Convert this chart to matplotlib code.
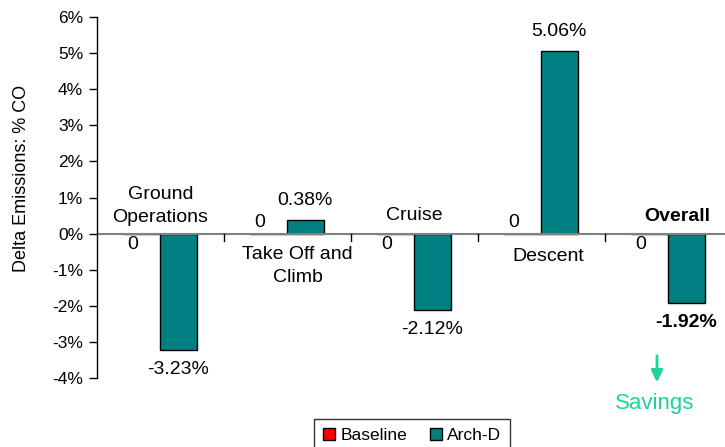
import matplotlib
matplotlib.use("Agg")
import matplotlib.pyplot as plt
from matplotlib.patches import Rectangle
import numpy as np

plt.rcParams['font.family'] = ['Liberation Sans', 'DejaVu Sans']

categories = ["Ground\nOperations", "Take Off and\nClimb", "Cruise", "Descent", "Overall"]
baseline = [0, 0, 0, 0, 0]
arch_d = [-3.23, 0.38, -2.12, 5.06, -1.92]
yticks = [-4, -3, -2, -1, 0, 1, 2, 3, 4, 5, 6]

teal = "#008080"
red = "#ff0000"
green = "#1ed39a"

fig = plt.figure(figsize=(7.25, 4.47), dpi=100)
ax = fig.add_axes([97 / 725, 69 / 447, 635 / 725, 361 / 447])

x = np.arange(len(categories)) + 0.5
w = 0.29
ax.bar(x - 0.15, baseline, w, color=red, edgecolor="black", linewidth=1)
ax.bar(x + 0.14, arch_d, w, color=teal, edgecolor="black", linewidth=1)

ax.set_xlim(0, 5)
ax.set_ylim(-4, 6)
ax.set_yticks(yticks)
ax.set_yticklabels([f"{t}%" for t in yticks], fontsize=12.5)
ax.set_xticks([])

for s in ["top", "right", "bottom"]:
    ax.spines[s].set_visible(False)
ax.spines["left"].set_linewidth(1)
ax.tick_params(axis="y", length=6, width=1, pad=4)

# zero line with category separators
ax.axhline(0, color="#808080", linewidth=1.5, zorder=1)
for i in range(1, 5):
    ax.plot([i, i], [0, -0.2], color="black", linewidth=1, clip_on=False)

# value labels
for i, v in enumerate(arch_d):
    off = 14 if v >= 0 else -14
    ax.annotate(f"{v:.2f}%", (x[i] + 0.14, v), xytext=(0, off), textcoords="offset points",
                ha="center", va="center", fontsize=14,
                fontweight="bold" if i == 4 else "normal")
for i, v in enumerate(baseline):
    off = 8 if arch_d[i] >= 0 else -8
    ax.annotate(str(v), (x[i] - 0.22, 0), xytext=(0, off), textcoords="offset points",
                ha="center", va="center", fontsize=14)

# category labels
cat_pos = [(0.5, 0.77), (1.58, -0.9), (2.5, 0.5), (3.55, -0.64), (4.57, 0.47)]
for i, (cx, cy) in enumerate(cat_pos):
    ax.text(cx, cy, categories[i], ha="center", va="center", fontsize=14, linespacing=1.5,
            fontweight="bold" if i == 4 else "normal")

ax.set_ylabel("Delta Emissions: % CO", fontsize=13)
ax.yaxis.set_label_coords(-0.105, 0.554)

# savings arrow
ax.annotate("", xy=(657, 62), xycoords="figure pixels", xytext=(657, 94),
            textcoords="figure pixels",
            arrowprops=dict(arrowstyle="-|>,head_length=0.7,head_width=0.35", color=green, lw=2))
fig.text(655 / 725, 43 / 447, "Savings", color=green, fontsize=16, ha="center", va="center")

handles = [Rectangle((0, 0), 1, 1, facecolor=red, edgecolor="black"),
           Rectangle((0, 0), 1, 1, facecolor=teal, edgecolor="black")]
leg = fig.legend(handles, ["Baseline", "Arch-D"], loc="lower center", ncol=2,
                 bbox_to_anchor=(412 / 725, -0.03), fontsize=12.5, frameon=True,
                 fancybox=False, edgecolor="black", handlelength=0.7, handleheight=0.7,
                 handletextpad=0.3, columnspacing=1.3, borderpad=0.5)
leg.get_frame().set_linewidth(1)

fig.savefig("out.png", dpi=100)
